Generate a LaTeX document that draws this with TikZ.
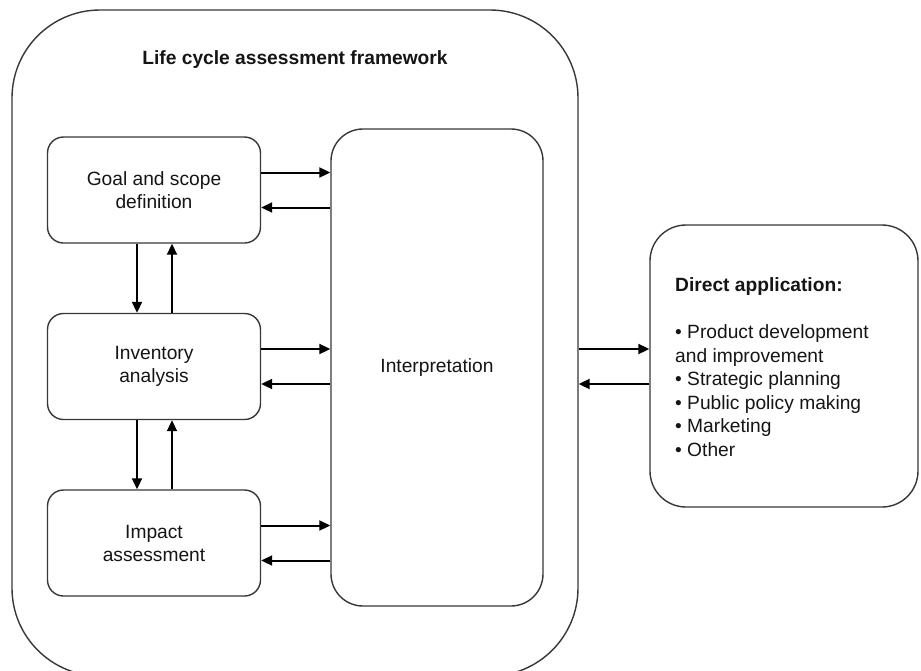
\documentclass[tikz,border=0pt]{standalone}
\usepackage{fontspec}
\setmainfont{Liberation Sans}
\usetikzlibrary{arrows.meta}
\definecolor{boxgray}{HTML}{383838}
\definecolor{txt}{HTML}{151515}
\newcommand{\lcfont}{\fontsize{19.2}{23}\selectfont}
\newcommand{\lcfontlist}{\fontsize{19.2}{23.5}\selectfont}
\begin{document}
\begin{tikzpicture}[x=1pt,y=-1pt,
  stagebox/.style={draw=boxgray, line width=1.4pt, rounded corners=16pt,
    minimum width=213pt, minimum height=106pt, align=center, font=\lcfont,
    text=txt, inner sep=0pt},
  conn/.style={line width=2pt, draw=black, -{Triangle[length=11pt,width=10pt]}},
]
\useasboundingbox (0,0) rectangle (921,670);
\fill[white] (0,0) rectangle (921,670);

% outer frame
\node[draw=boxgray, line width=1.4pt, rounded corners=88pt,
  minimum width=566pt, minimum height=666pt, inner sep=0pt] (frame) at (295,343) {};
\node[font=\lcfont\bfseries, text=txt, anchor=base] (title) at (295,64) {Life cycle assessment framework};

% stages
\node[stagebox] (goal) at (154,190) {Goal and scope\\definition};
\node[stagebox] (inv) at (154,366.5) {Inventory\\analysis};
\node[stagebox] (imp) at (154,543) {Impact\\assessment};

% interpretation
\node[draw=boxgray, line width=1.4pt, rounded corners=32pt,
  minimum width=212pt, minimum height=477pt, inner sep=0pt,
  font=\lcfont, text=txt] (interp) at (437,367.5) {Interpretation};

% direct application
\node[draw=boxgray, line width=1.4pt, rounded corners=36pt,
  minimum width=268pt, minimum height=282pt, inner sep=0pt] (direct) at (784,366) {};
\node[anchor=base west, align=left, font=\lcfontlist, text=txt, inner sep=0pt] (dtext) at (675,456)
  {\textbf{Direct application:}\\[23.5pt]
   \textbullet\ Product development\\
   and improvement\\
   \textbullet\ Strategic planning\\
   \textbullet\ Public policy making\\
   \textbullet\ Marketing\\
   \textbullet\ Other};

% horizontal connectors stage <-> interpretation
\foreach \s in {goal,inv,imp}{
  \coordinate (\s a) at ([yshift=17.5pt]\s.east);
  \coordinate (\s b) at ([yshift=-17.5pt]\s.east);
  \draw[conn] (\s a) -- (\s a -| interp.west);
  \draw[conn] (\s b -| interp.west) -- (\s b);
}

% vertical connectors
\coordinate (gd) at ([xshift=-17pt]goal.south);
\coordinate (iu) at ([xshift=18pt]inv.north);
\draw[conn] (gd) -- (gd |- inv.north);
\draw[conn] (iu) -- (iu |- goal.south);
\coordinate (id) at ([xshift=-17pt]inv.south);
\coordinate (mu) at ([xshift=18pt]imp.north);
\draw[conn] (id) -- (id |- imp.north);
\draw[conn] (mu) -- (mu |- inv.south);

% framework <-> direct application
\coordinate (da) at ([yshift=17pt]direct.west);
\coordinate (db) at ([yshift=-18pt]direct.west);
\draw[conn] (da -| frame.east) -- (da);
\draw[conn] (db) -- (db -| frame.east);
\end{tikzpicture}
\end{document}
